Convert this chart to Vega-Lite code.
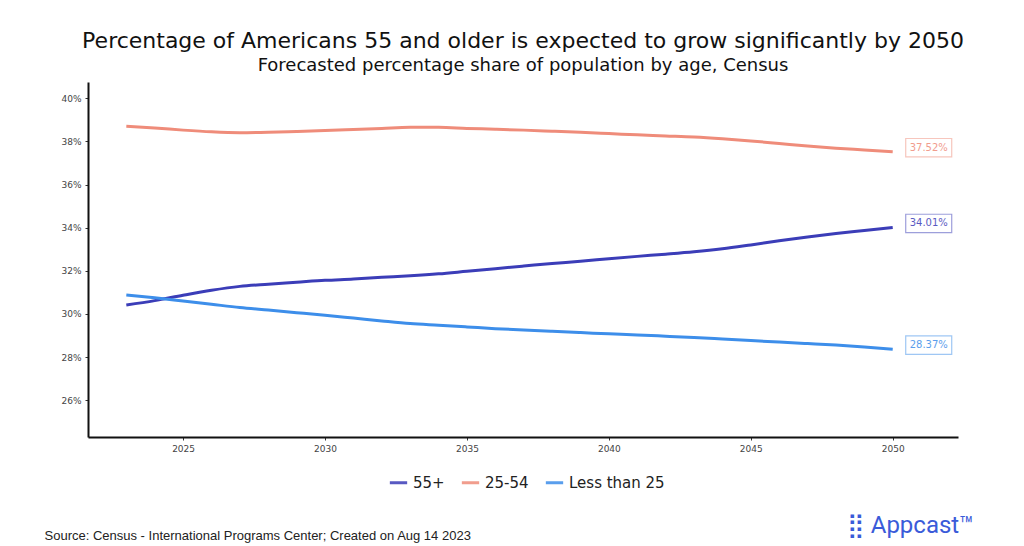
{
  "$schema": "https://vega.github.io/schema/vega-lite/v6.json",
  "width": 870,
  "height": 355,
  "autosize": {"type": "none"},
  "padding": {"left": 88, "top": 82, "right": 66, "bottom": 109},
  "background": "white",
  "title": {
    "text": "Percentage of Americans 55 and older is expected to grow significantly by 2050",
    "subtitle": "Forecasted percentage share of population by age, Census",
    "anchor": "middle",
    "font": "DejaVu Sans",
    "fontSize": 22,
    "fontWeight": "normal",
    "color": "#111",
    "subtitleFont": "DejaVu Sans",
    "subtitleFontSize": 18,
    "subtitleColor": "#111",
    "subtitlePadding": 4,
    "offset": 6
  },
  "config": {
    "view": {"stroke": null},
    "font": "DejaVu Sans"
  },
  "datasets": {
    "series": [
      {"year": 2023, "group": "55+", "pct": 30.42},
      {"year": 2024, "group": "55+", "pct": 30.62},
      {"year": 2025, "group": "55+", "pct": 30.87},
      {"year": 2026, "group": "55+", "pct": 31.10},
      {"year": 2027, "group": "55+", "pct": 31.28},
      {"year": 2028, "group": "55+", "pct": 31.38},
      {"year": 2029, "group": "55+", "pct": 31.47},
      {"year": 2030, "group": "55+", "pct": 31.56},
      {"year": 2031, "group": "55+", "pct": 31.62},
      {"year": 2032, "group": "55+", "pct": 31.70},
      {"year": 2033, "group": "55+", "pct": 31.77},
      {"year": 2034, "group": "55+", "pct": 31.86},
      {"year": 2035, "group": "55+", "pct": 31.98},
      {"year": 2036, "group": "55+", "pct": 32.10},
      {"year": 2037, "group": "55+", "pct": 32.22},
      {"year": 2038, "group": "55+", "pct": 32.34},
      {"year": 2039, "group": "55+", "pct": 32.44},
      {"year": 2040, "group": "55+", "pct": 32.56},
      {"year": 2041, "group": "55+", "pct": 32.67},
      {"year": 2042, "group": "55+", "pct": 32.77},
      {"year": 2043, "group": "55+", "pct": 32.88},
      {"year": 2044, "group": "55+", "pct": 33.02},
      {"year": 2045, "group": "55+", "pct": 33.20},
      {"year": 2046, "group": "55+", "pct": 33.39},
      {"year": 2047, "group": "55+", "pct": 33.57},
      {"year": 2048, "group": "55+", "pct": 33.73},
      {"year": 2049, "group": "55+", "pct": 33.87},
      {"year": 2050, "group": "55+", "pct": 34.01},
      {"year": 2023, "group": "25-54", "pct": 38.70},
      {"year": 2024, "group": "25-54", "pct": 38.62},
      {"year": 2025, "group": "25-54", "pct": 38.52},
      {"year": 2026, "group": "25-54", "pct": 38.44},
      {"year": 2027, "group": "25-54", "pct": 38.40},
      {"year": 2028, "group": "25-54", "pct": 38.42},
      {"year": 2029, "group": "25-54", "pct": 38.46},
      {"year": 2030, "group": "25-54", "pct": 38.50},
      {"year": 2031, "group": "25-54", "pct": 38.55},
      {"year": 2032, "group": "25-54", "pct": 38.60},
      {"year": 2033, "group": "25-54", "pct": 38.65},
      {"year": 2034, "group": "25-54", "pct": 38.65},
      {"year": 2035, "group": "25-54", "pct": 38.60},
      {"year": 2036, "group": "25-54", "pct": 38.56},
      {"year": 2037, "group": "25-54", "pct": 38.52},
      {"year": 2038, "group": "25-54", "pct": 38.47},
      {"year": 2039, "group": "25-54", "pct": 38.42},
      {"year": 2040, "group": "25-54", "pct": 38.36},
      {"year": 2041, "group": "25-54", "pct": 38.30},
      {"year": 2042, "group": "25-54", "pct": 38.25},
      {"year": 2043, "group": "25-54", "pct": 38.20},
      {"year": 2044, "group": "25-54", "pct": 38.12},
      {"year": 2045, "group": "25-54", "pct": 38.02},
      {"year": 2046, "group": "25-54", "pct": 37.90},
      {"year": 2047, "group": "25-54", "pct": 37.78},
      {"year": 2048, "group": "25-54", "pct": 37.68},
      {"year": 2049, "group": "25-54", "pct": 37.60},
      {"year": 2050, "group": "25-54", "pct": 37.52},
      {"year": 2023, "group": "Less than 25", "pct": 30.88},
      {"year": 2024, "group": "Less than 25", "pct": 30.75},
      {"year": 2025, "group": "Less than 25", "pct": 30.60},
      {"year": 2026, "group": "Less than 25", "pct": 30.45},
      {"year": 2027, "group": "Less than 25", "pct": 30.30},
      {"year": 2028, "group": "Less than 25", "pct": 30.18},
      {"year": 2029, "group": "Less than 25", "pct": 30.06},
      {"year": 2030, "group": "Less than 25", "pct": 29.94},
      {"year": 2031, "group": "Less than 25", "pct": 29.81},
      {"year": 2032, "group": "Less than 25", "pct": 29.68},
      {"year": 2033, "group": "Less than 25", "pct": 29.56},
      {"year": 2034, "group": "Less than 25", "pct": 29.48},
      {"year": 2035, "group": "Less than 25", "pct": 29.40},
      {"year": 2036, "group": "Less than 25", "pct": 29.32},
      {"year": 2037, "group": "Less than 25", "pct": 29.26},
      {"year": 2038, "group": "Less than 25", "pct": 29.20},
      {"year": 2039, "group": "Less than 25", "pct": 29.14},
      {"year": 2040, "group": "Less than 25", "pct": 29.08},
      {"year": 2041, "group": "Less than 25", "pct": 29.03},
      {"year": 2042, "group": "Less than 25", "pct": 28.97},
      {"year": 2043, "group": "Less than 25", "pct": 28.91},
      {"year": 2044, "group": "Less than 25", "pct": 28.84},
      {"year": 2045, "group": "Less than 25", "pct": 28.77},
      {"year": 2046, "group": "Less than 25", "pct": 28.70},
      {"year": 2047, "group": "Less than 25", "pct": 28.63},
      {"year": 2048, "group": "Less than 25", "pct": 28.56},
      {"year": 2049, "group": "Less than 25", "pct": 28.47},
      {"year": 2050, "group": "Less than 25", "pct": 28.37}
    ]
  },
  "data": {"name": "series"},
  "encoding": {
    "x": {
      "field": "year",
      "type": "quantitative",
      "scale": {"domain": [2021.65, 2052.3], "nice": false, "zero": false},
      "axis": {
        "values": [2025, 2030, 2035, 2040, 2045, 2050],
        "format": "d",
        "grid": false,
        "domainColor": "#111",
        "domainWidth": 2,
        "tickColor": "#333",
        "tickSize": 3,
        "labelFont": "DejaVu Sans",
        "labelFontSize": 9,
        "labelColor": "#444",
        "labelPadding": 4,
        "title": "Source: Census - International Programs Center; Created on Aug 14 2023",
        "titleFont": "Liberation Sans",
        "titleFontSize": 13,
        "titleFontWeight": "normal",
        "titleColor": "#222",
        "titleAnchor": "start",
        "titleAlign": "left",
        "titleBaseline": "alphabetic",
        "titleX": -44,
        "titleY": 102
      }
    },
    "y": {
      "field": "pct",
      "type": "quantitative",
      "scale": {"domain": [24.3, 40.75], "nice": false, "zero": false},
      "axis": {
        "values": [26, 28, 30, 32, 34, 36, 38, 40],
        "labelExpr": "datum.value + '%'",
        "grid": false,
        "domainColor": "#111",
        "domainWidth": 2,
        "tickColor": "#333",
        "tickSize": 3,
        "labelFont": "DejaVu Sans",
        "labelFontSize": 9,
        "labelColor": "#444",
        "labelPadding": 4,
        "title": "⣿ Appcast™",
        "titleFont": "Roboto",
        "titleFontSize": 24,
        "titleFontWeight": "normal",
        "titleColor": "#3a5bd9",
        "titleAngle": 0,
        "titleAlign": "center",
        "titleBaseline": "alphabetic",
        "titleX": 822,
        "titleY": 450
      }
    },
    "color": {
      "field": "group",
      "type": "nominal",
      "scale": {
        "domain": ["55+", "25-54", "Less than 25"],
        "range": ["#3B3DB8", "#EF8C7A", "#3D8EEA"]
      },
      "legend": {
        "title": null,
        "orient": "none",
        "direction": "horizontal",
        "legendX": 300,
        "legendY": 390,
        "symbolType": "stroke",
        "symbolStrokeWidth": 3,
        "symbolSize": 300,
        "labelFont": "DejaVu Sans",
        "labelFontSize": 15,
        "labelColor": "#222",
        "columnPadding": 10
      }
    }
  },
  "layer": [
    {"mark": {"type": "line", "strokeWidth": 3, "interpolate": "monotone"}},
    {
      "transform": [{"filter": "datum.year == 2050"}],
      "mark": {
        "type": "point",
        "shape": "M-1,-0.4H1V0.4H-1Z",
        "size": 2116,
        "filled": true,
        "fill": "white",
        "strokeWidth": 1.2,
        "strokeOpacity": 0.7,
        "xOffset": 36,
        "yOffset": -4
      },
      "encoding": {
        "stroke": {
          "field": "group",
          "type": "nominal",
          "legend": null,
          "scale": {
            "domain": ["55+", "25-54", "Less than 25"],
            "range": ["#3B3DB8", "#EF8C7A", "#3D8EEA"]
          }
        },
        "color": {"value": "white"}
      }
    },
    {
      "transform": [
        {"filter": "datum.year == 2050"},
        {"calculate": "format(datum.pct, '.2f') + '%'", "as": "label"}
      ],
      "mark": {
        "type": "text",
        "font": "DejaVu Sans",
        "fontSize": 10,
        "dx": 36,
        "dy": -4,
        "align": "center",
        "baseline": "middle",
        "opacity": 0.85
      },
      "encoding": {"text": {"field": "label"}}
    }
  ]
}
